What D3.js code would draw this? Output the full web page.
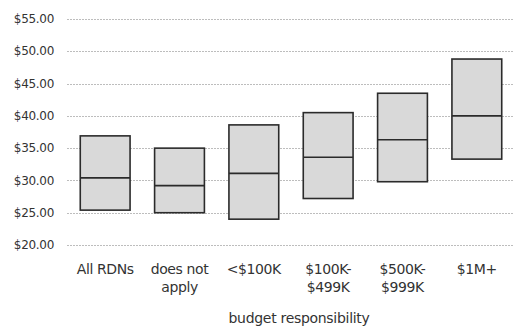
<!DOCTYPE html>
<html>
<head>
<meta charset="utf-8">
<script src="https://cdn.jsdelivr.net/npm/d3@7"></script>
<style>
  body { margin: 0; background: #fff; }
  text { font-family: "DejaVu Sans", Verdana, sans-serif; fill: #333; }
</style>
</head>
<body>
<div id="chart"></div>
<script>
// categories and box values (25th pct, median, 75th pct)
var categories = ["All RDNs", "does not apply", "<$100K", "$100K-$499K", "$500K-$999K", "$1M+"];
var labelLines = [["All RDNs"], ["does not", "apply"], ["<$100K"], ["$100K-", "$499K"], ["$500K-", "$999K"], ["$1M+"]];
var low = [25.4, 25.0, 24.0, 27.2, 29.8, 33.3];
var median = [30.4, 29.2, 31.1, 33.6, 36.3, 40.0];
var high = [36.9, 35.0, 38.6, 40.5, 43.5, 48.8];
var yTicks = [20, 25, 30, 35, 40, 45, 50, 55];

var width = 513, height = 326;
var svg = d3.select("#chart").append("svg")
    .attr("width", width)
    .attr("height", height);

var x = d3.scaleBand().domain(categories).range([68, 514]).paddingInner(0.33).paddingOuter(0.165);
var y = d3.scaleLinear().domain([20, 55]).range([245, 19]);

// gridlines
svg.append("g").selectAll("line")
    .data(yTicks).enter().append("line")
    .attr("x1", 67).attr("x2", width)
    .attr("y1", function(d) { return Math.round(y(d)) + 0.5; })
    .attr("y2", function(d) { return Math.round(y(d)) + 0.5; })
    .attr("stroke", "#bdbdbd")
    .attr("stroke-width", 1.2)
    .attr("stroke-dasharray", "2,1");

// y labels
svg.append("g").selectAll("text")
    .data(yTicks).enter().append("text")
    .attr("x", 54)
    .attr("y", function(d) { return y(d); })
    .attr("dy", "0.35em")
    .attr("text-anchor", "end")
    .style("font-size", "12px")
    .style("letter-spacing", "-0.3px")
    .text(function(d) { return "$" + d3.format(".2f")(d); });

// boxes
var rows = categories.map(function(c, i) { return {cat: c, lo: low[i], med: median[i], hi: high[i]}; });
var box = svg.append("g").selectAll("g").data(rows).enter().append("g");
box.append("rect")
    .attr("x", function(d) { return x(d.cat); })
    .attr("width", x.bandwidth())
    .attr("y", function(d) { return y(d.hi); })
    .attr("height", function(d) { return y(d.lo) - y(d.hi); })
    .attr("fill", "#d9d9d9")
    .attr("stroke", "#2b2b2b")
    .attr("stroke-width", 1.6);
box.append("line")
    .attr("x1", function(d) { return x(d.cat); })
    .attr("x2", function(d) { return x(d.cat) + x.bandwidth(); })
    .attr("y1", function(d) { return y(d.med); })
    .attr("y2", function(d) { return y(d.med); })
    .attr("stroke", "#2b2b2b")
    .attr("stroke-width", 1.6);

// x labels
var xl = svg.append("g").selectAll("text")
    .data(categories).enter().append("text")
    .attr("x", function(d) { return x(d) + x.bandwidth() / 2; })
    .attr("y", 274)
    .attr("text-anchor", "middle")
    .style("font-size", "14px")
    .style("letter-spacing", "-0.4px");
xl.selectAll("tspan")
    .data(function(d, i) { return labelLines[i]; })
    .enter().append("tspan")
    .attr("x", function() { return d3.select(this.parentNode).attr("x"); })
    .attr("dy", function(d, i) { return i ? 18 : 0; })
    .text(function(d) { return d; });

// axis title
svg.append("text")
    .attr("x", 299)
    .attr("y", 323)
    .attr("text-anchor", "middle")
    .style("font-size", "14px")
    .style("letter-spacing", "-0.3px")
    .text("budget responsibility");
</script>
</body>
</html>
